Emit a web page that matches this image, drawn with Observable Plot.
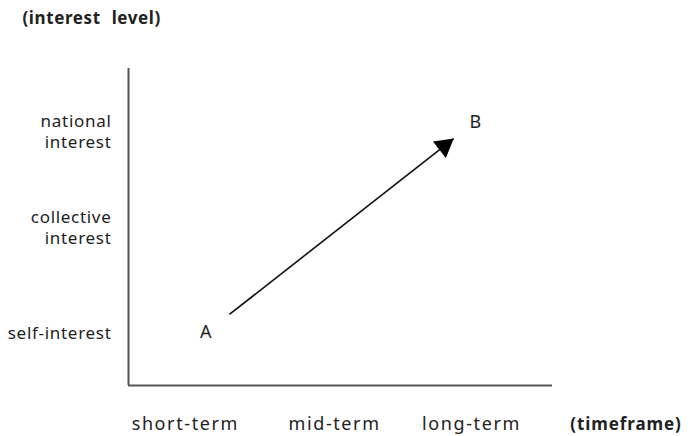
<!DOCTYPE html>
<html>
<head>
<meta charset="utf-8">
<script src="https://cdn.jsdelivr.net/npm/d3@7"></script>
<script src="https://cdn.jsdelivr.net/npm/@observablehq/plot@0.6"></script>
<style>
  html, body { margin: 0; padding: 0; background: #fff; }
  svg { display: block; }
</style>
</head>
<body>
<div id="chart"></div>
<script>
// ---- data ----
const xCategories = ["short-term", "mid-term", "long-term"];
const xCategoryPos = [1.34, 4.86, 8.09];
const yCategoriesLine1 = ["self-interest", "collective", "national"];
const yCategoriesLine2 = ["", "interest", "interest"];
const yCategoryPos = [1.64, 4.98, 8.01];
const pointNames = ["A", "B"];
const pointX = [2.38, 7.67];      // arrow start (A) and arrow tip (B)
const pointY = [2.24, 7.79];
const pointLabelX = [1.82, 8.18];
const pointLabelY = [1.67, 8.30];
const xTitle = "(timeframe)";
const xTitlePos = [10.42, 0];
const yTitle = "(interest level)";
const yTitlePos = [-2.5, 11.58];

// ---- layout ----
const W = 690, H = 436;
const mL = 128, mR = 138, mT = 68, mB = 51;
const pxPerX = (W - mL - mR) / 10;
const pxPerY = (H - mT - mB) / 10;

// arrowhead orientation in pixel space
const ddx = (pointX[1] - pointX[0]) * pxPerX;
const ddy = (pointY[1] - pointY[0]) * pxPerY;
const angle = Math.atan2(ddx, ddy) * 180 / Math.PI;
const headR = 7.8;
const side = headR * Math.sqrt(4 * Math.PI / Math.sqrt(3));
const tipDist = side * Math.sqrt(3) / 3;
const rad = angle * Math.PI / 180;

const xLabels = xCategories.map((c, i) => ({label: c, x: xCategoryPos[i], y: 0}));
const ySingle = yCategoriesLine1.map((c, i) => ({label: c, x: 0, y: yCategoryPos[i]}))
  .filter((d, i) => !yCategoriesLine2[i]);
const yTop = yCategoriesLine1.map((c, i) => ({label: c, x: 0, y: yCategoryPos[i]}))
  .filter((d, i) => yCategoriesLine2[i]);
const yBottom = yCategoriesLine2.map((c, i) => ({label: c, x: 0, y: yCategoryPos[i]}))
  .filter(d => d.label);
const arrowData = [{x1: pointX[0], y1: pointY[0], x2: pointX[1], y2: pointY[1]}];
const pointLabels = pointNames.map((n, i) => ({label: n, x: pointLabelX[i], y: pointLabelY[i]}));

const font = "'Noto Sans', 'Open Sans', sans-serif";
const textColor = "#222";
const yLabelStyle = {x: "x", y: "y", text: "label", textAnchor: "end", dx: -17, fontSize: 17, fill: textColor};

const chart = Plot.plot({
  width: W,
  height: H,
  marginLeft: mL,
  marginRight: mR,
  marginTop: mT,
  marginBottom: mB,
  style: {fontFamily: font, background: "#fff"},
  x: {domain: [0, 10], axis: null},
  y: {domain: [0, 10], axis: null},
  marks: [
    Plot.ruleX([0], {stroke: "#555", strokeWidth: 2}),
    Plot.ruleY([0], {stroke: "#555", strokeWidth: 2}),
    Plot.text(xLabels, {x: "x", y: "y", text: "label", dy: 39,
      fontSize: 18, fill: textColor}),
    Plot.text([xTitle], {x: () => xTitlePos[0], y: () => xTitlePos[1], text: d => d, textAnchor: "start",
      dy: 39, fontSize: 17, fontWeight: "bold", fill: textColor}),
    Plot.text([yTitle], {x: () => yTitlePos[0], y: () => yTitlePos[1], text: d => d, textAnchor: "start",
      fontSize: 17, fontWeight: "bold", fill: textColor}),
    Plot.text(ySingle, yLabelStyle),
    Plot.text(yTop, {...yLabelStyle, dy: -10.5}),
    Plot.text(yBottom, {...yLabelStyle, dy: 10.5}),
    Plot.link(arrowData, {x1: "x1", y1: "y1", x2: "x2", y2: "y2", stroke: "#111", strokeWidth: 1.6}),
    Plot.dot(arrowData, {x: "x2", y: "y2", symbol: "triangle", r: headR, fill: "#000", stroke: "none",
      rotate: angle, dx: -tipDist * Math.sin(rad), dy: tipDist * Math.cos(rad)}),
    Plot.text(pointLabels, {x: "x", y: "y", text: "label", fontSize: 18, fill: textColor})
  ]
});

// letter spacing tweaks to match the reference's wider text
const textGroups = d3.select(chart).selectAll("g[aria-label='text']").nodes();
if (textGroups.length >= 6) {
  d3.select(textGroups[0]).attr("letter-spacing", "1.6px");
  d3.select(textGroups[1]).attr("letter-spacing", "0.9px");
  d3.select(textGroups[2]).attr("letter-spacing", "0.6px").attr("word-spacing", "6px");
  for (const i of [3, 4, 5]) d3.select(textGroups[i]).attr("letter-spacing", "0.7px");
}
document.getElementById("chart").appendChild(chart);
</script>
</body>
</html>
